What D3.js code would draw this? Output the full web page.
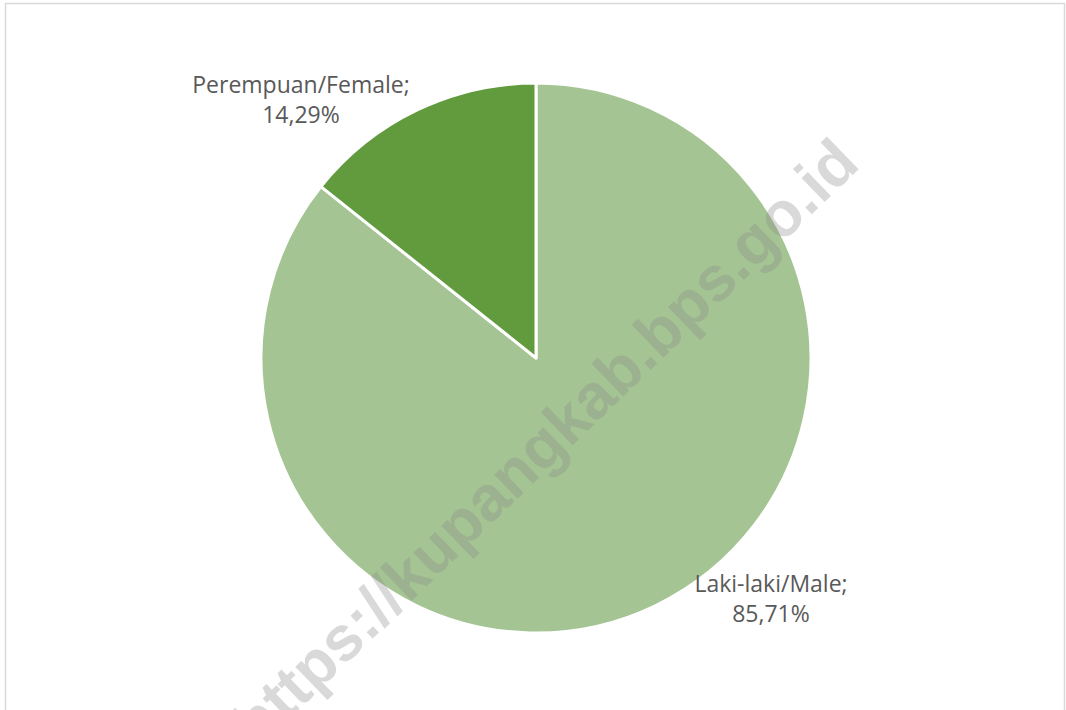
<!DOCTYPE html>
<html>
<head>
<meta charset="utf-8">
<script src="https://cdn.jsdelivr.net/npm/d3@7/dist/d3.min.js"></script>
<style>
  html, body { margin: 0; padding: 0; background: #ffffff; }
  svg { display: block; }
</style>
</head>
<body>
<svg id="chart" width="1066" height="710"></svg>
<script>
const categories = ["Laki-laki/Male", "Perempuan/Female"];
const values = [85.71, 14.29];
const valueLabels = ["85,71%", "14,29%"];
const colors = ["#a5c493", "#619b3e"];
const watermark = "https://kupangkab.bps.go.id";

const W = 1066, H = 710;
const cx = 536, cy = 358, R = 275;

const svg = d3.select("#chart");

// frame
svg.append("rect")
  .attr("x", 5.5).attr("y", 3.5)
  .attr("width", 1059).attr("height", 720)
  .attr("fill", "#ffffff")
  .attr("stroke", "#d9d9d9")
  .attr("stroke-width", 1.5);

const pie = d3.pie().sort(null).value(d => d.v);
const data = categories.map((c, i) => ({ c, v: values[i], lab: valueLabels[i], col: colors[i] }));
const arcs = pie(data);
const arc = d3.arc().innerRadius(0).outerRadius(R);

const g = svg.append("g").attr("transform", `translate(${cx},${cy})`);
g.selectAll("path.slice")
  .data(arcs)
  .join("path")
  .attr("class", "slice")
  .attr("d", arc)
  .attr("fill", d => d.data.col)
  .attr("stroke", "#ffffff")
  .attr("stroke-width", 3)
  .attr("stroke-linejoin", "round");

// labels outside the pie (Excel style best-fit)
const labelPos = [
  { x: 771, y: 592 },  // male
  { x: 301, y: 93 }    // female
];
const lg = svg.append("g")
  .attr("font-family", "'Open Sans', 'Noto Sans', sans-serif")
  .attr("font-size", 23)
  .attr("fill", "#595959")
  .attr("text-anchor", "middle");
arcs.forEach((d, i) => {
  const t = lg.append("text").attr("x", labelPos[i].x).attr("y", labelPos[i].y);
  t.append("tspan").attr("x", labelPos[i].x).text(d.data.c + ";");
  t.append("tspan").attr("x", labelPos[i].x).attr("dy", 30).text(d.data.lab);
});

// watermark
svg.append("text")
  .attr("transform", "translate(548,446) rotate(-44)")
  .attr("text-anchor", "middle")
  .attr("dominant-baseline", "middle")
  .attr("font-family", "'Liberation Sans', Arial, sans-serif")
  .attr("font-weight", "bold")
  .attr("font-size", 63)
  .attr("fill", "#8a8a8a")
  .attr("fill-opacity", 0.32)
  .text(watermark);
</script>
</body>
</html>
